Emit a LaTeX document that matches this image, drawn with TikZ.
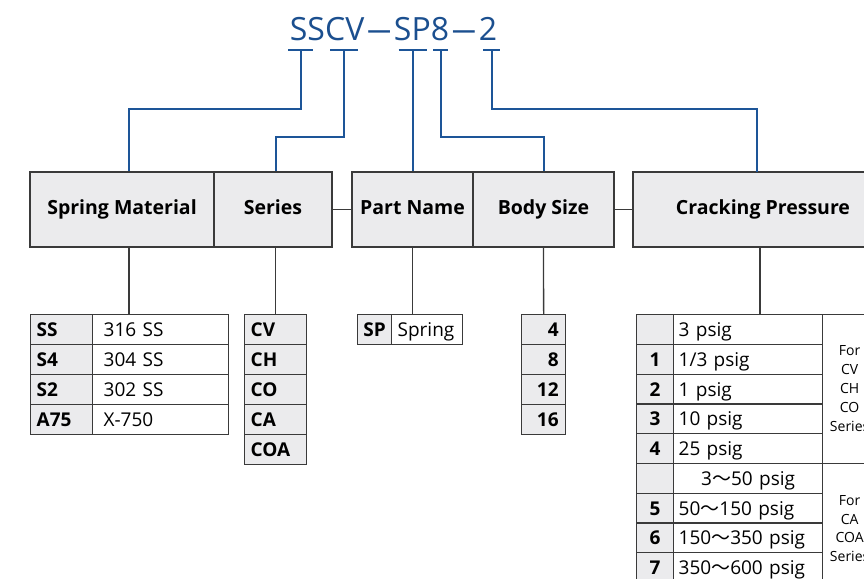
\documentclass[tikz,border=0pt]{standalone}
\usepackage{fontspec}
\setmainfont{Open Sans}
\newfontfamily\cjkf{Noto Sans CJK SC}
\definecolor{lc}{HTML}{3A3A3A}
\definecolor{bf}{HTML}{EBEBED}
\definecolor{bl}{HTML}{1D5598}
\definecolor{tb}{HTML}{1B4F8F}
\newcommand\ttlfont{\fontsize{32bp}{36bp}\selectfont}
\newcommand\hdrfont{\fontsize{19.5bp}{24bp}\selectfont\bfseries}
\newcommand\rowfont{\fontsize{19bp}{23bp}\selectfont}
\newcommand\rowbfont{\fontsize{19bp}{23bp}\selectfont\bfseries}
\newcommand\grpfont{\fontsize{14bp}{19bp}\selectfont}
\newcommand\grpfontb{\fontsize{14bp}{18.5bp}\selectfont}
\newcommand\tld{{\cjkf ～}}
\newcommand\tdash{\hspace{3bp}\scalebox{0.74}[1]{—}\hspace{3bp}}
\begin{document}
\begin{tikzpicture}[x=1bp,y=-1bp,
  hdr/.style={draw=lc, fill=bf, line width=1.3bp, minimum height=75bp, inner sep=0pt,
    text height=15bp, text depth=4bp, font=\hdrfont},
  cell/.style={draw=lc, line width=1.3bp, anchor=north west, minimum height=30bp,
    inner ysep=0pt, text height=15bp, text depth=1bp},
  keycell/.style={cell, fill=bf, font=\rowbfont},
  valcell/.style={cell, fill=white, font=\rowfont},
  gl/.style={draw=lc, line width=1.3bp},
  bline/.style={draw=bl, line width=2bp},
  tickbar/.style={draw=bl, line width=2.5bp}]
\useasboundingbox (0,0) rectangle (864,579);
\clip (0,0) rectangle (864,579);
% title
\node[anchor=base, font=\ttlfont, text=tb, inner sep=0pt] (title) at (393.5,41) {SSCV\tdash SP8\tdash 2};
\coordinate (t1) at (300.5,50);
\coordinate (t2) at (344,50);
\coordinate (t3) at (412.5,50);
\coordinate (t4) at (440.5,50);
\coordinate (t5) at (491.5,50);
% header boxes
\node[hdr, minimum width=184bp] (sm) at (122,209.5) {Spring Material};
\node[hdr, minimum width=118bp] (se) at (273,209.5) {Series};
\node[hdr, minimum width=121bp] (pn) at (412.5,209.5) {Part Name};
\node[hdr, minimum width=141bp] (bs) at (543.5,209.5) {Body Size};
\node[hdr, minimum width=260bp] (cp) at (763,209.5) {Cracking Pressure};
% spring material table
\foreach \k/\v [count=\i from 0] in {SS/316 SS, S4/304 SS, S2/302 SS, A75/X-750}{
  \node[keycell, text width=50bp, inner xsep=6bp] (smk\i) at (30,314+30*\i) {\k};
  \node[valcell, text width=114bp, inner xsep=11bp] (smv\i) at (92,314+30*\i) {\v};
}
\coordinate (smt) at (129,314);
% series table
\foreach \k [count=\i from 0] in {CV,CH,CO,CA,COA}{
  \node[keycell, text width=50bp, inner xsep=6bp] (sek\i) at (244,314+30*\i) {\k};
}
% part name table
\node[keycell, text width=34bp, inner xsep=0pt, align=center] (spk) at (357,314) {SP};
\node[valcell, text width=59bp, inner xsep=6bp] (spv) at (391,314) {Spring};
% body size table
\foreach \k [count=\i from 0] in {4,8,12,16}{
  \node[keycell, text width=30bp, inner xsep=7bp, align=right] (bsk\i) at (521,314+30*\i) {\k};
}
% cracking pressure table
\node[keycell, minimum height=29.75bp, text width=37bp, inner xsep=0pt, align=center] (cpk0) at (636,314) {};
\node[valcell, minimum height=29.75bp, text width=139bp, inner xsep=5bp] (cpv0) at (673,314) {3 psig};
\node[keycell, minimum height=29.75bp, text width=37bp, inner xsep=0pt, align=center] (cpk1) at (636,343.75) {1};
\node[valcell, minimum height=29.75bp, text width=139bp, inner xsep=5bp] (cpv1) at (673,343.75) {1/3 psig};
\node[keycell, minimum height=29.75bp, text width=37bp, inner xsep=0pt, align=center] (cpk2) at (636,373.5) {2};
\node[valcell, minimum height=29.75bp, text width=139bp, inner xsep=5bp] (cpv2) at (673,373.5) {1 psig};
\node[keycell, minimum height=29.75bp, text width=37bp, inner xsep=0pt, align=center] (cpk3) at (636,403.25) {3};
\node[valcell, minimum height=29.75bp, text width=139bp, inner xsep=5bp] (cpv3) at (673,403.25) {10 psig};
\node[keycell, minimum height=29.75bp, text width=37bp, inner xsep=0pt, align=center] (cpk4) at (636,433) {4};
\node[valcell, minimum height=29.75bp, text width=139bp, inner xsep=5bp] (cpv4) at (673,433) {25 psig};
\node[keycell, minimum height=29.75bp, text width=37bp, inner xsep=0pt, align=center] (cpk5) at (636,462.75) {};
\node[valcell, minimum height=29.75bp, text width=139bp, inner xsep=5bp, align=center] (cpv5) at (673,462.75) {3\tld50 psig};
\node[keycell, minimum height=29.75bp, text width=37bp, inner xsep=0pt, align=center] (cpk6) at (636,492.5) {5};
\node[valcell, minimum height=29.75bp, text width=139bp, inner xsep=5bp] (cpv6) at (673,492.5) {50\tld150 psig};
\node[keycell, minimum height=29.75bp, text width=37bp, inner xsep=0pt, align=center] (cpk7) at (636,522.25) {6};
\node[valcell, minimum height=29.75bp, text width=139bp, inner xsep=5bp] (cpv7) at (673,522.25) {150\tld350 psig};
\node[keycell, minimum height=29.75bp, text width=37bp, inner xsep=0pt, align=center] (cpk8) at (636,552) {7};
\node[valcell, minimum height=29.75bp, text width=139bp, inner xsep=5bp] (cpv8) at (673,552) {350\tld600 psig};
\node[draw=lc, line width=1.3bp, anchor=north west, minimum width=54bp, minimum height=148.75bp,
  inner sep=0pt, align=center, font=\grpfont] (g1) at (822,314) {For\\CV\\CH\\CO\\Series};
\node[draw=lc, line width=1.3bp, anchor=north west, minimum width=54bp, minimum height=130bp,
  inner sep=0pt, align=center, font=\grpfontb] (g2) at (822,462.75) {For\\CA\\COA\\Series};
\coordinate (cpt) at (757,172);
\coordinate (cpb) at (760,314);
% grey connectors
\draw[gl] (smt |- sm.south) -- (smt);
\draw[gl] (sek0.north |- se.south) -- (sek0.north);
\draw[gl] (pn.south) -- (pn.south |- spk.north);
\draw[gl] (bs.south) -- (bsk0.north);
\draw[gl] (cpb |- cp.south) -- (cpb);
\draw[gl] (se.east) -- (pn.west);
\draw[gl] (bs.east) -- (cp.west);
% blue ticks and connectors
\draw[tickbar] ([xshift=-12.5bp]t1) -- ([xshift=12.5bp]t1);
\draw[tickbar] ([xshift=-14bp]t2) -- ([xshift=14bp]t2);
\draw[tickbar] ([xshift=-14bp]t3) -- ([xshift=14bp]t3);
\draw[tickbar] ([xshift=-7.5bp]t4) -- ([xshift=7.5bp]t4);
\draw[tickbar] ([xshift=-8.5bp]t5) -- ([xshift=8.5bp]t5);
\draw[bline] (t1) -- ++(0,59) -| (smt |- sm.north);
\draw[bline] (t2) -- ++(0,87) -| (sek0.north |- se.north);
\draw[bline] (t3) -- (pn.north);
\draw[bline] (t4) -- ++(0,87) -| (bs.north);
\draw[bline] (t5) -- ++(0,59) -| (cpt);
\end{tikzpicture}
\end{document}
